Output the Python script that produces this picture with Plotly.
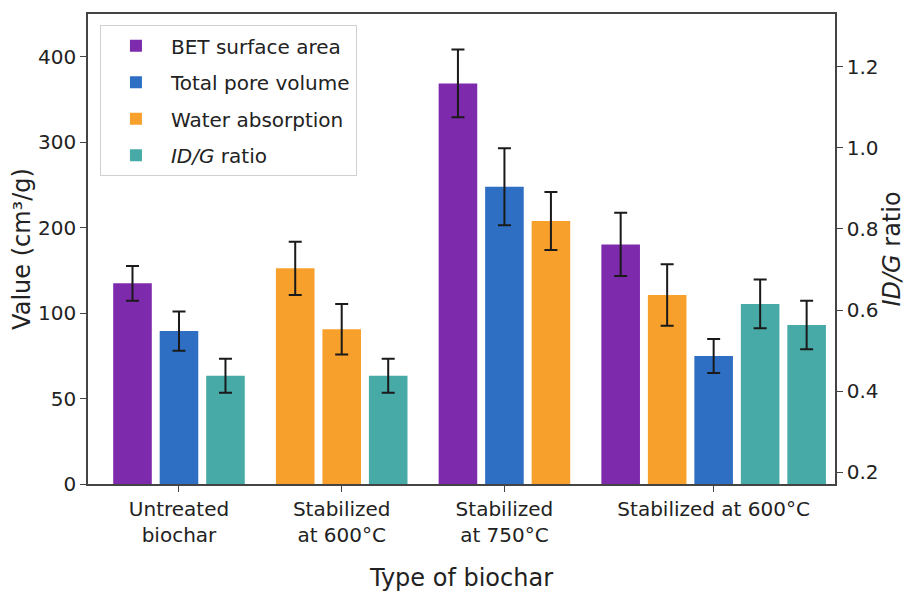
import plotly.graph_objects as go

# ---- data ----
categories = ["Untreated<br>biochar", "Stabilized<br>at 600°C", "Stabilized<br>at 750°C", "Stabilized at 600°C"]
series_names = ["BET surface area", "Total pore volume", "Water absorption", "<i>ID/G</i> ratio"]
series_colors = ["#7e2aad", "#2e6fc4", "#f7a12c", "#47aaa6"]

# bars in drawing order: group index, series index, value, error
bar_group = [0, 0, 0, 1, 1, 1, 2, 2, 2, 3, 3, 3, 3, 3]
bar_series = [0, 1, 3, 2, 2, 3, 0, 1, 2, 0, 2, 1, 3, 3]
# series 0-2 in left-axis units, series 3 (ID/G ratio) in right-axis units
bar_values = [117.4, 89.5, 0.438, 126.2, 90.5, 0.438, 234.4, 173.9, 153.9, 140.2, 110.6, 74.9, 0.615, 0.563]
bar_errors = [10.2, 11.5, 0.042, 15.6, 14.8, 0.042, 19.8, 22.5, 17.0, 18.5, 18.0, 9.9, 0.060, 0.060]

left_tickvals = [0, 50, 100, 150, 200, 250]
left_ticktext = ["0", "50", "100", "200", "300", "400"]
right_tickvals = [0.2, 0.4, 0.6, 0.8, 1.0, 1.2]
right_ticktext = ["0.2", "0.4", "0.6", "0.8", "1.0", "1.2"]

# ---- positions (slot units) ----
group_gap = 0.5
n_groups = len(categories)
counts = [bar_group.count(g) for g in range(n_groups)]
starts = []
s = 0.0
for c in counts:
    starts.append(s)
    s += c + group_gap
bar_x = []
seen = [0] * n_groups
for g in bar_group:
    bar_x.append(starts[g] + seen[g])
    seen[g] += 1
group_centers = [starts[g] + (counts[g] - 1) / 2 for g in range(n_groups)]

fig = go.Figure()
for si, name in enumerate(series_names):
    idx = [i for i, b in enumerate(bar_series) if b == si]
    fig.add_trace(go.Bar(
        x=[bar_x[i] for i in idx],
        y=[bar_values[i] for i in idx],
        width=0.83,
        name=name,
        legendgroup=f"g{si}",
        marker=dict(color=series_colors[si], line=dict(width=0)),
        error_y=dict(type="data", array=[bar_errors[i] for i in idx],
                     color="#1a1a1a", thickness=2, width=6.5),
        yaxis="y2" if si == 3 else "y",
    ))

font = "DejaVu Sans, Verdana, sans-serif"
axis_col = "#444444"
fig.update_layout(
    width=898, height=584,
    margin=dict(l=80, r=71, t=6, b=108, autoexpand=False),
    plot_bgcolor="white", paper_bgcolor="white",
    barmode="overlay",
    font=dict(family=font, size=20, color="#222222"),
    showlegend=True,
    legend=dict(x=0.016, y=0.976, xanchor="left", yanchor="top",
                bordercolor="#d0d0d0", borderwidth=1, bgcolor="rgba(255,255,255,0.9)",
                font=dict(size=20), traceorder="grouped", tracegroupgap=7.5,
                itemwidth=60),
    xaxis=dict(range=[-0.957, 15.11], tickvals=group_centers, ticktext=categories,
               automargin=False,
               showline=True, linecolor=axis_col, linewidth=1.5, mirror=True,
               ticks="outside", ticklen=6, tickcolor=axis_col, showgrid=False, zeroline=False,
               title=dict(text="Type of biochar", standoff=35)),
    yaxis=dict(range=[0, 275], tickvals=left_tickvals, ticktext=left_ticktext,
               automargin=False,
               showline=True, linecolor=axis_col, linewidth=1.5,
               ticks="outside", ticklen=6, tickcolor=axis_col, showgrid=False, zeroline=False,
               title=dict(text="Value (cm³/g)", standoff=6)),
    yaxis2=dict(range=[0.171, 1.33], tickvals=right_tickvals, ticktext=right_ticktext,
                overlaying="y", side="right", automargin=False,
                showline=True, linecolor=axis_col, linewidth=1.5,
                ticks="outside", ticklen=6, tickcolor=axis_col, showgrid=False, zeroline=False,
                title=dict(text="<i>ID/G</i> ratio", standoff=15)),
)

fig.write_html("out.html")
